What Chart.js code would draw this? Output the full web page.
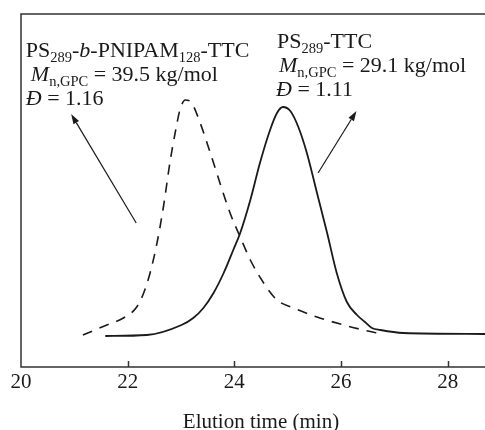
<!DOCTYPE html>
<html>
<head>
<meta charset="utf-8">
<script src="https://cdn.jsdelivr.net/npm/chart.js@4"></script>
<style>
  html, body { margin: 0; padding: 0; background: #fff; }
  #wrap { width: 485px; height: 430px; }
</style>
</head>
<body>
<div id="wrap"><canvas id="gpc"></canvas></div>
<script>
// PS289-TTC (solid line)
const psTime = [21.58, 22.36, 23.01, 23.23, 23.42, 23.61, 23.80, 23.98, 24.11, 24.30, 24.48, 24.67, 24.80, 24.91, 25.05, 25.20, 25.36, 25.55, 25.74, 25.92, 26.11, 26.30, 26.45, 26.58, 26.74, 27.17, 28.7];
const psSignal = [31, 32, 42, 49, 59, 74, 94, 117, 134, 167, 204, 237, 254, 260, 256, 240, 214, 174, 134, 94, 65, 52, 45, 39, 37, 34, 33];

// PS289-b-PNIPAM128-TTC (dashed line)
const blockTime = [21.16, 21.61, 21.92, 22.17, 22.30, 22.42, 22.55, 22.67, 22.80, 22.89, 22.98, 23.08, 23.20, 23.36, 23.55, 23.73, 23.92, 24.11, 24.30, 24.55, 24.80, 25.11, 25.55, 26.05, 26.42, 26.77];
const blockSignal = [32, 42, 49, 60, 74, 94, 124, 160, 207, 234, 257, 267, 264, 244, 214, 184, 154, 130, 107, 84, 67, 59, 50, 42, 37, 33];

const xTicks = [20, 22, 24, 26, 28];
const xTitle = "Elution time (min)";

const ink = "#1a1a1a";
const serif = "'Liberation Serif', 'Times New Roman', serif";

function toPoints(xs, ys) {
    return xs.map((x, i) => ({ x: x, y: ys[i] }));
}

// annotation blocks: anchor in data units, then lines of [text, italic, subscript]
const labels = [
    {
        x: 20.09, y: [310, 286, 262], dx: [0, 5, 0],
        lines: [
            [["PS", 0, 0], ["289", 0, 1], ["-", 0, 0], ["b", 1, 0], ["-PNIPAM", 0, 0], ["128", 0, 1], ["-TTC", 0, 0]],
            [["M", 1, 0], ["n,GPC", 0, 1], [" = 39.5 kg/mol", 0, 0]],
            [["Đ", 1, 0], [" = 1.16", 0, 0]],
        ],
    },
    {
        x: 24.80, y: [319, 295, 271], dx: [0, 2, -1],
        lines: [
            [["PS", 0, 0], ["289", 0, 1], ["-TTC", 0, 0]],
            [["M", 1, 0], ["n,GPC", 0, 1], [" = 29.1 kg/mol", 0, 0]],
            [["Đ", 1, 0], [" = 1.11", 0, 0]],
        ],
    },
];

// arrows: tail -> tip, data units
const arrows = [
    { from: [22.16, 144], to: [20.94, 253] },
    { from: [25.57, 194], to: [26.29, 256] },
];

const decor = {
    id: "decor",
    afterDatasetsDraw(chart) {
        const { ctx, chartArea, scales } = chart;
        const sx = scales.x, sy = scales.y;
        ctx.save();

        // frame: left, top, bottom
        ctx.strokeStyle = "#333";
        ctx.lineWidth = 1.5;
        ctx.beginPath();
        ctx.moveTo(chartArea.right + 2, chartArea.top);
        ctx.lineTo(chartArea.left, chartArea.top);
        ctx.lineTo(chartArea.left, chartArea.bottom);
        ctx.lineTo(chartArea.right + 2, chartArea.bottom);
        ctx.stroke();

        // inward tick marks
        xTicks.forEach((v) => {
            if (v === sx.min) return;
            const px = Math.round(sx.getPixelForValue(v)) + 0.5;
            ctx.beginPath();
            ctx.moveTo(px, chartArea.bottom);
            ctx.lineTo(px, chartArea.bottom - 6);
            ctx.stroke();
        });

        // axis title, slightly right of centre as in the figure
        ctx.fillStyle = ink;
        ctx.font = "21px " + serif;
        ctx.textAlign = "center";
        ctx.textBaseline = "middle";
        ctx.fillText(xTitle, chartArea.left + (chartArea.right - chartArea.left) / 2 + 8, 422);

        // arrows
        ctx.strokeStyle = ink;
        ctx.lineWidth = 1.2;
        arrows.forEach((a) => {
            const x1 = sx.getPixelForValue(a.from[0]), y1 = sy.getPixelForValue(a.from[1]);
            const x2 = sx.getPixelForValue(a.to[0]), y2 = sy.getPixelForValue(a.to[1]);
            const ang = Math.atan2(y2 - y1, x2 - x1);
            const len = 10, half = 3.2;
            const bx = x2 - len * Math.cos(ang), by = y2 - len * Math.sin(ang);
            ctx.beginPath();
            ctx.moveTo(x1, y1);
            ctx.lineTo(bx, by);
            ctx.stroke();
            ctx.beginPath();
            ctx.moveTo(x2, y2);
            ctx.lineTo(bx + half * Math.sin(ang), by - half * Math.cos(ang));
            ctx.lineTo(bx - half * Math.sin(ang), by + half * Math.cos(ang));
            ctx.closePath();
            ctx.fill();
        });

        // rich text labels
        ctx.textBaseline = "alphabetic";
        ctx.textAlign = "left";
        labels.forEach((blk) => {
            blk.lines.forEach((line, li) => {
                let px = sx.getPixelForValue(blk.x) + blk.dx[li];
                const py = sy.getPixelForValue(blk.y[li]);
                line.forEach(([txt, it, sub]) => {
                    const size = sub ? 14.5 : 22;
                    ctx.font = (it ? "italic " : "") + size + "px " + serif;
                    ctx.fillText(txt, px, py + (sub ? 5 : 0));
                    px += ctx.measureText(txt).width;
                });
            });
        });

        ctx.restore();
    },
};

new Chart(document.getElementById("gpc"), {
    type: "line",
    data: {
        datasets: [
            {
                label: "PS289-TTC",
                data: toPoints(psTime, psSignal),
                borderColor: ink,
                borderWidth: 1.8,
                pointRadius: 0,
                cubicInterpolationMode: "monotone",
                fill: false,
            },
            {
                label: "PS289-b-PNIPAM128-TTC",
                data: toPoints(blockTime, blockSignal),
                borderColor: ink,
                borderWidth: 1.6,
                borderDash: [10, 8],
                pointRadius: 0,
                cubicInterpolationMode: "monotone",
                fill: false,
            },
        ],
    },
    options: {
        responsive: true,
        maintainAspectRatio: false,
        animation: false,
        clip: false,
        layout: { padding: { left: 21, top: 14, right: 0, bottom: 32 } },
        plugins: {
            legend: { display: false },
            tooltip: { enabled: false },
        },
        scales: {
            x: {
                type: "linear",
                min: 20,
                max: 28.7,
                afterBuildTicks: (scale) => {
                    scale.ticks = xTicks.map((v) => ({ value: v }));
                },
                grid: { display: false, drawTicks: false },
                border: { display: false },
                ticks: {
                    color: ink,
                    padding: 5,
                    maxRotation: 0,
                    font: { family: serif, size: 21, lineHeight: 1.0 },
                },
            },
            y: {
                display: false,
                min: 0,
                max: 353,
            },
        },
    },
    plugins: [decor],
});
</script>
</body>
</html>
